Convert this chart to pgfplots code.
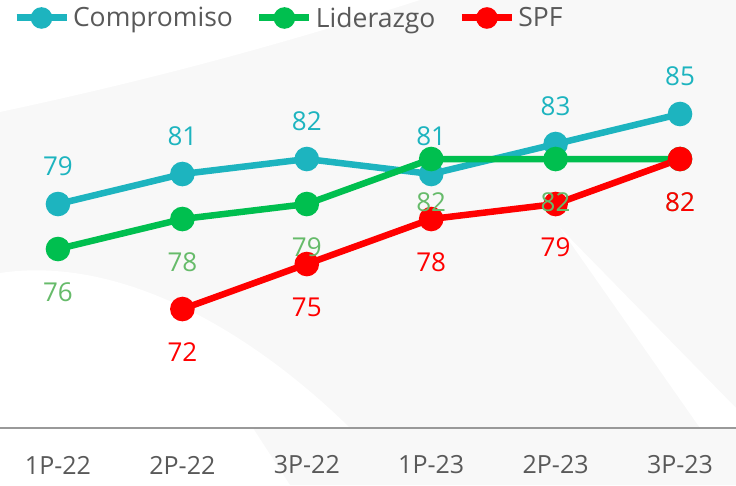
\documentclass[border=0pt]{standalone}
\usepackage{pgfplots}
\pgfplotsset{compat=1.18}
\usepackage{fontspec}
\setmainfont{Open Sans}
\definecolor{cteal}{HTML}{1DB4BF}
\definecolor{cgreen}{HTML}{00BF4F}
\definecolor{clgreen}{HTML}{66BB6A}
\definecolor{cred}{HTML}{FF0000}
\definecolor{ctext}{HTML}{595959}
\definecolor{caxis}{HTML}{999999}
\definecolor{cbg}{HTML}{F8F8F8}
\begin{document}
\begin{tikzpicture}
\path[use as bounding box] (0,-57pt) rectangle (736pt,428pt);
% faint background shapes
\fill[cbg] (0pt,0pt) rectangle (736pt,428pt);
\fill[white] (0pt,428pt) -- (0pt,316pt) .. controls (150pt,348pt) and (280pt,383pt) .. (420pt,428pt) -- cycle;
\fill[white] (0pt,0pt) -- (0pt,155pt) .. controls (120pt,173pt) and (250pt,98pt) .. (350pt,0pt) -- cycle;
\fill[white] (560pt,200pt) -- (736pt,20pt) -- (736pt,0pt) -- (700pt,0pt) -- cycle;
\fill[cbg] (253pt,0pt) -- (290pt,-57pt) -- (736pt,-57pt) -- (736pt,0pt) -- cycle;
\begin{axis}[
  scale only axis, width=736pt, height=428pt,
  xmin=-0.466, xmax=5.45, ymin=64.07, ymax=92.6,
  axis y line=none, axis x line*=bottom,
  axis line style={caxis, line width=2.5pt, -},
  xtick={0,...,5}, xticklabels={1P-22,2P-22,3P-22,1P-23,2P-23,3P-23},
  major tick length=0pt,
  /pgf/number format/assume math mode=true,
  xticklabel style={font=\fontsize{25}{25}\selectfont, text=ctext, anchor=center, yshift=-37pt},
  clip=false,
  legend columns=3,
  legend style={draw=none, fill=none, at={(0.0177,0.958)}, anchor=west,
    inner sep=0pt, outer sep=0pt,
    font=\fontsize{26.5}{26.5}\selectfont, text=ctext,
    nodes={inner sep=3pt},
    /tikz/every even column/.append style={column sep=20pt}},
  legend image code/.code={\draw[line width=7pt,#1] (0pt,0pt) -- (50pt,0pt); \fill[#1] (25pt,0pt) circle (7.5pt);},
]
\addplot[cteal, line width=6.5pt, mark=*, mark size=9pt, mark options={draw=none}] coordinates {(0,79)(1,81)(2,82)(3,81)(4,83)(5,85)};
\addlegendentry{Compromiso}
\addplot[cgreen, line width=6.5pt, mark=*, mark size=9pt, mark options={draw=none}] coordinates {(0,76)(1,78)(2,79)(3,82)(4,82)(5,82)};
\addlegendentry{Liderazgo}
\addplot[cred, line width=6.5pt, mark=*, mark size=9pt, mark options={draw=none}] coordinates {(1,72)(2,75)(3,78)(4,79)(5,82)};
\addlegendentry{SPF}
% value labels
\addplot[forget plot, draw=none, mark=none, nodes near coords,
  nodes near coords style={font=\fontsize{26}{26}\selectfont, text=cteal, anchor=center, yshift=38pt}]
  coordinates {(0,79)(1,81)(2,82)(3,81)(4,83)(5,85)};
\addplot[forget plot, draw=none, mark=none, nodes near coords,
  nodes near coords style={font=\fontsize{26}{26}\selectfont, text=clgreen, anchor=center, yshift=-43.5pt}]
  coordinates {(0,76)(1,78)(2,79)(3,82)(4,82)(5,82)};
\addplot[forget plot, draw=none, mark=none, nodes near coords,
  nodes near coords style={font=\fontsize{26}{26}\selectfont, text=cred, anchor=center, yshift=-43.5pt}]
  coordinates {(1,72)(2,75)(3,78)(4,79)(5,82)};
\end{axis}
\end{tikzpicture}
\end{document}
